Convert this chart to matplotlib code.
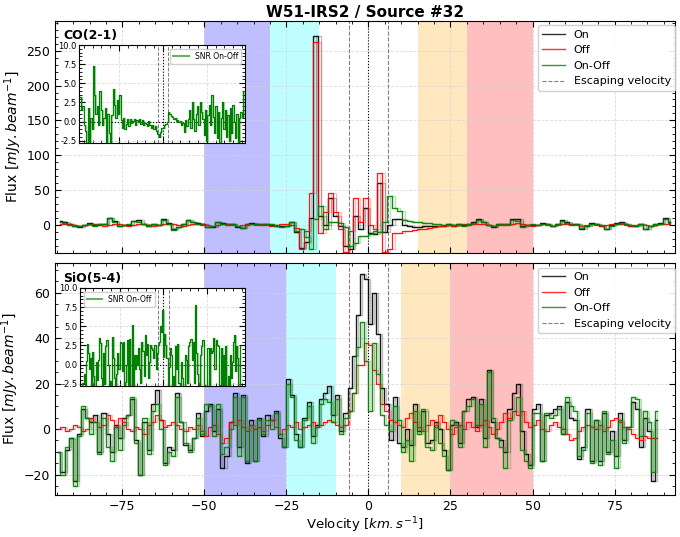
import numpy as np
import matplotlib
matplotlib.use("Agg")
import matplotlib.pyplot as plt
from matplotlib.lines import Line2D
from matplotlib.ticker import MultipleLocator, AutoMinorLocator

# ---------------- CO(2-1) spectra, channel 1.5 km/s starting at -94 km/s
co_v0, co_dv = -94.0, 1.5
co_on = [6, 5, 1, -1, -3, 0, 3, 0, 1, 1,
         10, 6, -1, 0, 0, 6, 7, 2, -1, 1,
         0, 8, 3, -6, -3, 1, 7, 5, 3, 1,
         -3, -3, 5, 3, 1, 1, -3, -4, 2, 3,
         1, 1, 2, 0, -1, -2,
         -1, 5, -10, -33, -25, 10, 271, 13, 0, 39, 13, -2, -30, -35, 13, -6,
         25, -11, -13, 60, -10, 0, 8, 8, 0, -2, -3, -3, -2, -2, -1, -1, -1,
         1, -1, 1, 0, 2, 4, 9, 5, 0, -3, 1, 1, 2, 9, 9, -2, 0, 0, 0, 3,
         1, -2, 1, 7, 5, 1, 1, -5, -1, 3, 1, -1, -5, 0, 3, 4, 2, -1, -1, 2,
         -6, -2, 1, 3, 10, 4]
co_off = [1, 2, 1, 0, -1, 0, 1, 1, 0, -1, 0, 2, 1, 0, -1, 0, 2, 1, 0, -1,
          0, 1, 2, 1, 0, -1, 0, 1, 2, 1, 0, -1, 0, 1, 1, 0, -1, 0, 2, 1,
          0, 1, 0, -1, 0, 1,
          1, 0, -4, -35, -8, 46, 262, -12, 18, 46, 18, -5, -38, -8, 39, 5,
          39, 0, -6, 74, -38, -35, -12, -11, -9, -8, -7, -6, -5, -4, -3, -2, -1,
          0, -1, 0, 1, 0, 1, 2, 1, 0, -1, 0, 1, 0, 2, 3, 1, 0, -1, 0, 1,
          0, -1, 0, 1, 2, 1, 0, -1, 0, 1, 0, -1, 0, 1, 2, 1, 0, -1, 0, 1,
          0, -1, 0, 1, 2, 1]
co_diff = [5, 3, 0, -1, -2, 0, 2, -1, 1, 2, 10, 4, -2, 0, 1, 6, 5, 1, -1, 2,
           0, 7, 1, -7, -3, 2, 7, 4, 1, 0, -3, -2, 5, 2, 0, 1, -2, -4, 0, 2,
           1, 0, 2, 1, -1, -3,
           -2, 5, -8, -5, -17, -35, 8, 27, -5, 5, 5, 3, -3, -30, -26, -16,
           -16, -13, -9, -10, 5, 41, 25, 20, 7, 6, 5, 4, 3, 3, 2, 1, 0,
           1, 0, 1, -1, 2, 3, 7, 4, 0, -2, 1, 0, 2, 7, 6, -3, 0, 1, 0, 2,
           1, -1, 1, 6, 3, 0, 1, -4, -1, 2, 1, 0, -5, -1, 1, 3, 2, 0, -1, 1,
           -6, -1, 1, 2, 8, 3]
co_snr = [3.2, 1.5, 2.0, -0.5, -1.2, -2.8, 1.8, -2.8, 0.5, -1.0,
          7.3, 3.5, 1.0, 2.0, -0.5, 4.0, 1.5, -0.5, 0.5, 1.8,
          -2.8, 1.0, -1.5, -2.8, 0.8, 4.3, 2.2, 0.5, 2.8, 1.0,
          3.5, 0.2, -0.8, 0.5, -1.0, -0.3, 0.4, -0.6, 0.3, -0.2,
          0.1, 0.3, -0.4, 0.2, -0.1, 0.3, -0.3, 0.2, -0.5, -0.2,
          -0.3, -0.6, 0.1, -0.4, -0.8, -0.5, -1.0, -0.6, -1.2, -1.6,
          -2.0, -1.4, -0.8, -0.9, -0.5, -0.3, 0.0, 1.2, 1.0, 0.7,
          0.6, 0.4, 0.5, 0.1, 0.2, 0.0, 0.1, -0.4, -0.2, -1.3,
          0.2, -0.6, 0.3, 1.5, -0.8, 2.5, 0.4, -1.2, 1.0, 2.0,
          -0.5, 2.5, 1.2, 0.3, -1.8, 1.5, -2.5, 0.8, 2.2, -0.4,
          3.5, 0.6, -1.5, 2.0, -2.2, 1.2, -2.8, 0.5, 2.5, -1.0,
          1.5, -2.0, 0.8, -2.5, 1.8, -1.5, 2.2, 0.0, -2.2, 1.0,
          -2.8, 0.5, 1.2, 0.6, 4.0]

# ---------------- SiO(5-4) spectra, channel 1.25 km/s starting at -94.5 km/s
sio_v0, sio_dv = -94.5, 1.25
sio_on = [-10, -19, -9, -4, -23, -2, 9, 5, 3, 6,
          -10, 7, -2, -10, 2, -4, 5, 6, 13, -5,
          -20, 3, -9, 11, 17, 4, -15, -8, -9, 16,
          3, -7, -9, -4, 7, -3, 8, 11, -1,
          9, -17, -12, 3, 16, -8, 15, -15, 4, -14,
          5, -3, 6, 4, 8, -4, -8, 22, 15, -2,
          -8, 5, 12, -3, 2, 13, 16, 19, 6, 15, -1,
          7, 18, 32, 50, 68, 66, 46, 60, 42, 18, 11, -5, 14, -6, -8,
          0, -7, 11, -1, 8, -6, -5, 3, 0, -9,
          -18, 2, 3, -6, 8, 13, 14, 1, 13, -4,
          26, 3, -4, -5, -10, 9, 16, 20, -1, -11,
          -16, 9, 11, -14, 6, 7, 9, 10, -2, 12,
          5, 4, -13, -8, 9, -14, 4, -14, 7, -10,
          -1, -12, 7, -5, 1, 12, 9, -8, 5, -1, -23, 4]
sio_off = [0, 1, -1, 0, 2, 1, -1, 0, 5, 3, 1, 2, 6, 4, 1, 5, 3, 0, -1, 1,
           0, -2, 2, 3, 6, 4, 1, 2, 3, 2, 0, -1, 1, 0, 2, -1, -3, 1, 2,
           -2, -6, -4, 3, 2, 4, 1, -1, 2, 0, 1, -1, 2, 4, 1, -2, 0, 2, 1, 3,
           0, 1, 2, 3, 1, 2, 3, 4, 3, 2, 1,
           2, 8, 16, 28, 28, 38, 37, 26, 20, 11, 8, 4, 3, 2, 1,
           5, 7, 3, 1, -1, 2, 4, 2, 6, 3, 0, -2, 1, 2, 0, 3, 1, -1, 2, 4,
           1, -2, 0, 3, 7, 5, 8, 6, 8, 3, 1, 2, 4, 0, -1, 2, 3, 1, 0, -2,
           -5, -4, -1, 1, 2, 1, 0, 2, -1, 1, 4, 5, 3, 1, 0, -2, -4, -5, -3, -4,
           -4, -4]
sio_diff = [-10, -20, -8, -4, -25, -3, 10, 5, -2, 3,
            -11, 5, -8, -14, 1, -9, 2, 6, 14, -6,
            -20, 5, -11, 8, 11, 0, -16, -10, -12, 14,
            3, -6, -10, -4, 5, -2, 11, 10, -3,
            11, -11, -8, 0, 14, -12, 14, -14, 2, -14,
            4, -2, 4, 0, 7, -2, -8, 20, 14, -5,
            -8, 4, 10, -6, 1, 11, 13, 12, 3, 13, -2,
            5, 8, 16, 36, 47, 30, 8, 38, 24, 6, 2, -1, 10, 4, -10,
            -5, -14, 8, -2, 9, -8, -9, 1, -6, -12,
            -18, 4, 2, -8, 8, 10, 13, 2, 11, -8,
            25, 5, -4, -8, -17, 4, 8, 14, -9, -14,
            -17, 7, 7, -14, 7, 5, 6, 9, -2, 14,
            10, 8, -12, -9, 7, -15, 4, -16, 8, -11,
            -5, -17, 4, -6, 1, 14, 13, -3, 8, 3, -19, 8]
sio_snr = [-2.8, -2.8, -2.4, -1.2, -2.8, 0.5, 2.7, 1.5, -0.6, 0.9,
           -2.8, 1.6, -1.5, -2.8, 0.3, -2.0, 0.6, 3.5, 2.8, -1.8,
           -2.8, 1.5, -2.6, 2.4, 3.2, 0.0, -2.8, -2.2, -2.8, 3.6,
           0.9, -1.8, -2.8, -1.2, 1.5, -0.6, 3.0, 2.8, -0.9, 2.9,
           -2.8, -2.3, 0.0, 3.2, -2.8, 3.4, -2.8, 5.2, -2.8, 1.2,
           -0.6, 1.2, 0.0, 2.1, -0.6, -2.4, 2.9, 1.8, -1.5, 3.8,
           1.2, 2.7, -1.8, 0.3, 2.6, 2.2, 1.9, 0.9, 2.6, -0.6,
           1.5, 2.5, 3.0, 5.0, 4.2, 7.1, 1.0, 4.0, 2.5, 0.8,
           -2.8, -0.3, 2.2, 1.2, -2.8, -1.5, -2.8, 2.4, -0.6, 2.7,
           -2.4, -2.7, 0.3, -1.8, -2.8, -2.8, 1.2, 0.6, -2.4, 2.4,
           3.0, 3.4, 0.6, 2.9, -2.4, 7.8, 1.5, -1.2, -2.4, -2.8,
           1.2, 2.4, 3.2, -2.7, -2.8, -2.8, 2.1, 2.1, -2.8, 2.1,
           1.5, 1.8, 3.5, -0.6, 3.2, 2.6, 2.4, -2.8, -2.7, 2.1,
           -2.8, 1.2, -2.8, 2.4, -2.8, -1.5, -2.8, 1.2, -1.8, 0.3,
           3.0, 3.8, -0.9, 2.4, 0.9, -2.8, 2.4]

# velocity windows and escape velocity
co_windows = [(-50, -30, "blue"), (-30, -15, "cyan"), (15, 30, "orange"), (30, 50, "red")]
sio_windows = [(-50, -25, "blue"), (-25, -10, "cyan"), (10, 25, "orange"), (25, 50, "red")]
v_esc = 6.0

co_v = co_v0 + co_dv * np.arange(len(co_on))
sio_v = sio_v0 + sio_dv * np.arange(len(sio_on))


def draw_spec(ax, v, y, color, lw=1.0):
    ax.step(v, y, where="mid", color=color, lw=lw, alpha=0.9, zorder=3)
    ax.step(v, y, where="post", color=color, lw=lw, alpha=0.25, zorder=3)


def style_axes(ax, size):
    ax.tick_params(which="both", direction="in", top=True, right=True, labelsize=size)
    ax.tick_params(which="major", length=4)
    ax.tick_params(which="minor", length=2)
    ax.xaxis.set_minor_locator(AutoMinorLocator())
    ax.yaxis.set_minor_locator(AutoMinorLocator())
    ax.grid(True, which="major", ls="--", color="lightgray", lw=0.6, alpha=0.8)
    ax.set_axisbelow(True)


def panel(ax, v, on, off, diff, windows, ylim, ymajor, name):
    ax.set_xlim(-95.5, 93.5)
    ax.set_ylim(*ylim)
    for lo, hi, c in windows:
        ax.axvspan(lo, hi, color=c, alpha=0.25, lw=0, zorder=0)
    ax.axvline(-v_esc, color="gray", ls="--", lw=0.8, zorder=2)
    ax.axvline(v_esc, color="gray", ls="--", lw=0.8, zorder=2)
    ax.axvline(0, color="k", ls=":", lw=0.8, zorder=2)
    draw_spec(ax, v, on, "black")
    draw_spec(ax, v, off, "red", lw=0.9)
    draw_spec(ax, v, diff, "green")
    ax.xaxis.set_major_locator(MultipleLocator(25))
    ax.yaxis.set_major_locator(MultipleLocator(ymajor))
    style_axes(ax, 9)
    ax.set_ylabel(r"Flux [$mJy.beam^{-1}$]", fontsize=10, labelpad=2)
    ax.text(0.013, 0.935, name, transform=ax.transAxes, fontsize=9,
            fontweight="bold", va="center", ha="left")
    handles = [Line2D([], [], color="black", lw=1, alpha=0.8),
               Line2D([], [], color="red", lw=1, alpha=0.8),
               Line2D([], [], color="green", lw=1, alpha=0.8),
               Line2D([], [], color="gray", lw=0.8, ls="--")]
    ax.legend(handles, ["On", "Off", "On-Off", "Escaping velocity"],
              loc="upper right", bbox_to_anchor=(1.0, 0.98), borderaxespad=0,
              fontsize=8, framealpha=0.9)


def inset(rect, v, snr, legend_loc):
    ins = fig.add_axes(rect)
    ins.set_facecolor("white")
    ins.set_xlim(-95.5, 93.5)
    ins.set_ylim(-2.8, 10)
    ins.axhline(0, color="k", ls=":", lw=0.8)
    ins.axvline(-v_esc, color="gray", ls="--", lw=0.7)
    ins.axvline(v_esc, color="gray", ls="--", lw=0.7)
    ins.axvline(0, color="k", ls=":", lw=0.8)
    ins.step(v, snr, where="mid", color="green", lw=0.9, zorder=3)
    ins.step(v, snr, where="post", color="green", lw=0.9, alpha=0.3, zorder=3)
    ins.xaxis.set_major_locator(MultipleLocator(50))
    ins.yaxis.set_major_locator(MultipleLocator(2.5))
    style_axes(ins, 6)
    ins.yaxis.set_major_formatter(plt.FormatStrFormatter("%.1f"))
    ins.tick_params(labelbottom=False, pad=1.5)
    ins.legend([Line2D([], [], color="green", lw=1.5, alpha=0.6)], ["SNR On-Off"],
               loc=legend_loc, fontsize=5.5, framealpha=0.9)
    return ins


fig = plt.figure(figsize=(6.8, 5.37), dpi=100)
ax1 = fig.add_axes([0.081, 0.529, 0.912, 0.4325])
ax2 = fig.add_axes([0.081, 0.0782, 0.912, 0.432], sharex=ax1)

panel(ax1, co_v, co_on, co_off, co_diff, co_windows, (-40, 293), 50, "CO(2-1)")
panel(ax2, sio_v, sio_on, sio_off, sio_diff, sio_windows, (-29, 73), 20, "SiO(5-4)")
ax1.tick_params(labelbottom=False)
ax2.set_xlabel(r"Velocity [$km.s^{-1}$]", fontsize=9.5, labelpad=2)
ax1.set_title("W51-IRS2 / Source #32", fontsize=11, fontweight="bold", pad=3)

inset([0.1162, 0.7337, 0.2441, 0.1825], co_v, co_snr, "upper right")
inset([0.1176, 0.2812, 0.2426, 0.1825], sio_v, sio_snr, "upper left")

fig.savefig("out.png", dpi=100)
